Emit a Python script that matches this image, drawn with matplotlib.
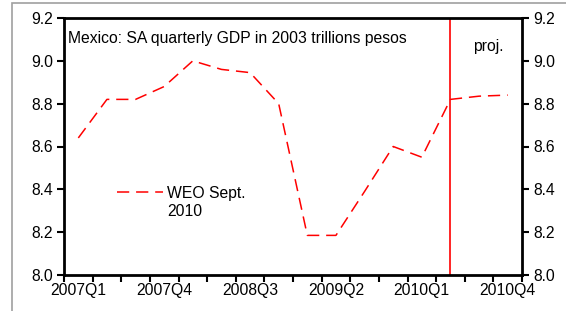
import matplotlib
matplotlib.use("Agg")
import matplotlib.pyplot as plt
from matplotlib.patches import Rectangle
from matplotlib.lines import Line2D

plt.rcParams['font.family'] = ['Liberation Sans', 'DejaVu Sans']

quarters = ["2007Q1", "2007Q2", "2007Q3", "2007Q4",
            "2008Q1", "2008Q2", "2008Q3", "2008Q4",
            "2009Q1", "2009Q2", "2009Q3", "2009Q4",
            "2010Q1", "2010Q2", "2010Q3", "2010Q4"]
gdp = [8.64, 8.82, 8.82, 8.88, 9.00, 8.96, 8.945, 8.80,
       8.185, 8.185, 8.39, 8.60, 8.55, 8.82, 8.835, 8.84]
proj_start = "2010Q2"
yticks = [8.0, 8.2, 8.4, 8.6, 8.8, 9.0, 9.2]
title = "Mexico: SA quarterly GDP in 2003 trillions pesos"
series_label = "WEO Sept.\n2010"

W, H = 566, 311
FS = 11.3
dash = (0, (8, 4.5))
fig = plt.figure(figsize=(W / 100, H / 100), dpi=100)
fig.patch.set_facecolor("white")
fig.patches.append(Rectangle((12 / W, -0.1), 1.2, (H - 3) / H + 0.1,
                             transform=fig.transFigure, fill=False,
                             edgecolor="#a0a0a0", linewidth=1.2))

x0, x1, yb, yt = 64, 522, 275, 18
ax = fig.add_axes([x0 / W, 1 - yb / H, (x1 - x0) / W, (yb - yt) / H])
n = len(quarters)
xs = list(range(n))
ax.plot(xs, gdp, color="#ff0000", linestyle=dash, linewidth=1.1)
ax.axvline(quarters.index(proj_start), color="#ff0000", linewidth=1.2)

ax.set_xlim(-0.5, n - 0.5)
ax.set_ylim(8.0, 9.2)
ax.set_yticks(yticks)
ax.set_yticklabels([f"{v:.1f}" for v in yticks])
ax.set_xticks([i - 0.5 for i in range(n + 1)])
ax.set_xticklabels([])
ax.set_xticks(xs[::3], minor=True)
ax.set_xticklabels(quarters[::3], minor=True)
ax.tick_params(axis="x", which="major", direction="out", length=5, width=1.5)
ax.tick_params(axis="x", which="minor", length=0, pad=6, labelsize=FS)
ax.tick_params(axis="y", direction="out", length=5, width=1.5, labelsize=FS,
               left=True, right=True, labelleft=True, labelright=True, pad=3)
for s in ax.spines.values():
    s.set_linewidth(2)
    s.set_color("black")

ax.text(0.008, 0.948, title, transform=ax.transAxes, fontsize=FS,
        ha="left", va="top")
ax.text(0.893, 0.918, "proj.", transform=ax.transAxes, fontsize=FS,
        ha="left", va="top")

# legend
lx0 = (117 - x0) / (x1 - x0)
lx1 = (163 - x0) / (x1 - x0)
ly = (yb - 192) / (yb - yt)
ax.add_line(Line2D([lx0, lx1], [ly, ly], transform=ax.transAxes,
                   color="#ff0000", linestyle=dash, linewidth=1.1))
ax.text((167 - x0) / (x1 - x0), ly + 0.022, series_label, transform=ax.transAxes,
        fontsize=FS, ha="left", va="top", linespacing=1.2)

fig.savefig("out.png", dpi=100)
